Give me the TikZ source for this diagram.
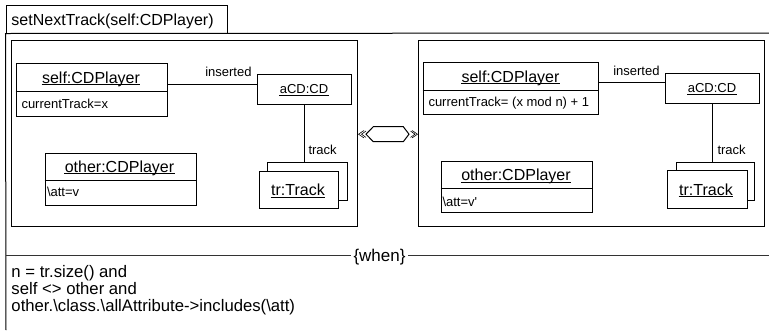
\documentclass[tikz,border=0pt]{standalone}
\usepackage{fontspec}
\setmainfont{Liberation Sans}
\newcommand\underl[1]{\draw[uline] ([yshift=-1.8pt]#1.base west) -- ([yshift=-1.8pt]#1.base east);}
\begin{document}
\begin{tikzpicture}[x=1pt,y=-1pt,line width=1pt,
  box/.style={draw,rectangle,inner sep=0pt,fill=white},
  frame/.style={draw,rectangle,inner sep=0pt},
  ttl/.style={font=\fontsize{16}{19}\selectfont,inner sep=0pt,anchor=base},
  small/.style={font=\fontsize{13}{15}\selectfont,inner sep=0pt,anchor=base},
  attr/.style={font=\fontsize{13}{15}\selectfont,inner sep=0pt,anchor=base west},
  cond/.style={font=\fontsize{16.7}{19}\selectfont,inner sep=0pt,anchor=base west},
  uline/.style={line width=1.2pt},
  sep/.style={line width=1.3pt,draw=black!80},
  chev/.style={line width=0.6pt}]
\useasboundingbox (0,0) rectangle (769,330);

% operation frame with name tab
\node[frame,minimum width=221pt,minimum height=28pt] (tab) at (116.5,19) {};
\node[ttl,anchor=base west] (title) at (11,25.5) {setNextTrack(self:CDPlayer)};
\coordinate (frTR) at (769,33);
\coordinate (frBL) at (6,330);
\draw (frTR) -- (tab.south west) -- (frBL);

% left-hand side pattern
\node[frame,minimum width=346pt,minimum height=186pt] (lhs) at (184,133.6) {};
\node[box,minimum width=151pt,minimum height=53pt] (selfL) at (91.5,89.5) {};
\draw ([yshift=-29pt]selfL.north west) -- ([yshift=-29pt]selfL.north east);
\node[ttl] (tSelfL) at (91,83) {self:CDPlayer}; \underl{tSelfL}
\node[attr] (aSelfL) at (21,108) {currentTrack=x};

\node[box,minimum width=94pt,minimum height=30pt] (aCDL) at (304,89) {};
\node[small] (tCDL) at (304,93.7) {aCD:CD}; \underl{tCDL}
\coordinate (pL) at ([yshift=5.5pt]selfL.east);
\draw (pL) -- (pL -| aCDL.west);
\node[small,anchor=base east] (iL) at (252,76) {inserted};

\draw (aCDL.south) -- (aCDL.south |- 0,162);
\node[box,minimum width=80pt,minimum height=38pt] (trBackL) at (307,181) {};
\node[box,minimum width=79pt,minimum height=37pt] (trL) at (298.5,189.5) {};
\node[ttl] (tTrL) at (298,195.5) {tr:Track}; \underl{tTrL}
\node[small,anchor=base west] (tkL) at (308,154) {track};

\node[box,minimum width=151pt,minimum height=52pt] (otherL) at (120.5,179) {};
\draw ([yshift=-28pt]otherL.north west) -- ([yshift=-28pt]otherL.north east);
\node[ttl] (tOthL) at (119.5,172) {other:CDPlayer}; \underl{tOthL}
\node[attr] (aOthL) at (46.5,196.5) {\textbackslash att=v};

% transformation marker
\draw (366,134.2) -- (373.3,126.7) -- (403.3,126.7) -- (409,134.2) -- (403.3,141.7) -- (373.3,141.7) -- cycle;
\draw[chev] (364,130.5) -- (358.5,134.2) -- (364,137.9);
\draw[chev] (366,131) -- (361.5,134.2) -- (366,137.4);
\draw[chev] (410.5,131) -- (415,134.2) -- (410.5,137.4);
\draw[chev] (412,130.5) -- (417.5,134.2) -- (412,137.9);

% right-hand side pattern
\node[frame,minimum width=346pt,minimum height=186pt] (rhs) at (591.5,133.6) {};
\node[box,minimum width=175pt,minimum height=52pt] (selfR) at (510.5,88) {};
\draw ([yshift=-29pt]selfR.north west) -- ([yshift=-29pt]selfR.north east);
\node[ttl] (tSelfR) at (510.5,82) {self:CDPlayer}; \underl{tSelfR}
\node[attr] (aSelfR) at (428,106.5) {currentTrack= (x mod n) + 1};

\node[box,minimum width=94pt,minimum height=30pt] (aCDR) at (712,88) {};
\node[small] (tCDR) at (712,92.5) {aCD:CD}; \underl{tCDR}
\coordinate (pR) at ([yshift=6pt]selfR.east);
\draw (pR) -- (pR -| aCDR.west);
\node[small,anchor=base east] (iR) at (660,75.5) {inserted};

\draw (aCDR.south) -- (aCDR.south |- 0,162);
\node[box,minimum width=78pt,minimum height=38pt] (trBackR) at (715,181) {};
\node[box,minimum width=80pt,minimum height=38pt] (trR) at (707,189) {};
\node[ttl] (tTrR) at (706,195) {tr:Track}; \underl{tTrR}
\node[small,anchor=base west] (tkR) at (717,154) {track};

\node[box,minimum width=151pt,minimum height=51pt] (otherR) at (516.5,186.5) {};
\draw ([yshift=-28pt]otherR.north west) -- ([yshift=-28pt]otherR.north east);
\node[ttl] (tOthR) at (516,180.5) {other:CDPlayer}; \underl{tOthR}
\node[attr] (aOthR) at (442,206) {\textbackslash att=v\textquotesingle};

% when-clause
\node[ttl,font=\fontsize{17}{20}\selectfont,inner xsep=2pt] (when) at (379.5,261) {\{when\}};
\coordinate (sepL) at (6,255.5);
\coordinate (sepR) at (769,255.5);
\draw[sep] (sepL) -- (sepL -| when.west);
\draw[sep] (when.east |- sepR) -- (sepR);
\node[cond] (c1) at (11,277) {n = tr.size() and};
\node[cond] (c2) at (11,294) {self <> other and};
\node[cond] (c3) at (11,311) {other.\textbackslash class.\textbackslash allAttribute->includes(\textbackslash att)};
\end{tikzpicture}
\end{document}
